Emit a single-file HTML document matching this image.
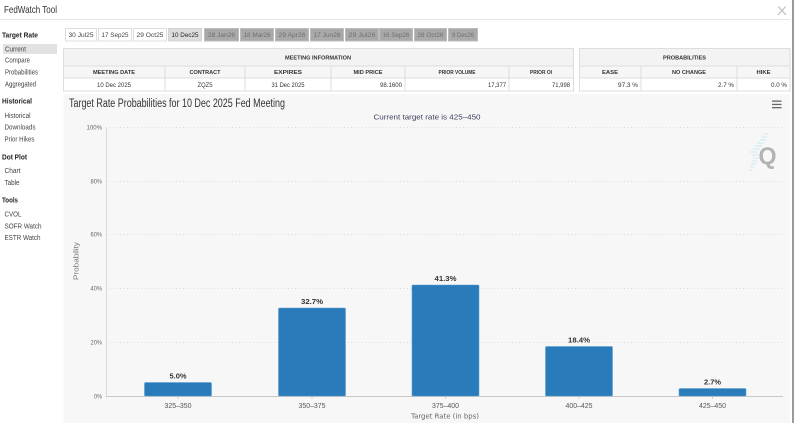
<!DOCTYPE html>
<html>
<head>
<meta charset="utf-8">
<style>
html,body{margin:0;padding:0;background:#fff;}
svg{display:block;}
text{font-family:"Liberation Sans",Arial,sans-serif;}
</style>
</head>
<body>
<svg width="800" height="423" viewBox="0 0 800 423" xmlns="http://www.w3.org/2000/svg">
<rect x="0" y="0" width="800" height="423" fill="#fff"/>
<!-- header -->
<text x="4" y="13" font-size="10.5" fill="#333" textLength="53" lengthAdjust="spacingAndGlyphs">FedWatch Tool</text>
<text x="777" y="15" font-size="12" fill="#bbb" textLength="10" lengthAdjust="spacingAndGlyphs">X</text>
<line x1="0" y1="19.5" x2="790" y2="19.5" stroke="#e6e6e6" stroke-width="1"/>
<line x1="793" y1="0" x2="793" y2="423" stroke="#9a9a9a" stroke-width="2"/>

<!-- sidebar -->
<g font-size="7" fill="#444">
<text x="2" y="37.5" font-weight="bold" fill="#222" textLength="36" lengthAdjust="spacingAndGlyphs">Target Rate</text>
<rect x="3" y="44" width="54" height="10" fill="#e2e2e2"/>
<text x="5" y="51.5" textLength="21" lengthAdjust="spacingAndGlyphs">Current</text>
<text x="5" y="62.5" textLength="25" lengthAdjust="spacingAndGlyphs">Compare</text>
<text x="5" y="74.5" textLength="33" lengthAdjust="spacingAndGlyphs">Probabilities</text>
<text x="5" y="86.5" textLength="31" lengthAdjust="spacingAndGlyphs">Aggregated</text>
<text x="2" y="103.5" font-weight="bold" fill="#222" textLength="30" lengthAdjust="spacingAndGlyphs">Historical</text>
<text x="4.5" y="118" textLength="26" lengthAdjust="spacingAndGlyphs">Historical</text>
<text x="4.5" y="129.5" textLength="31" lengthAdjust="spacingAndGlyphs">Downloads</text>
<text x="4.5" y="141.5" textLength="30" lengthAdjust="spacingAndGlyphs">Prior Hikes</text>
<text x="2" y="159.5" font-weight="bold" fill="#222" textLength="25" lengthAdjust="spacingAndGlyphs">Dot Plot</text>
<text x="4.5" y="173" textLength="16" lengthAdjust="spacingAndGlyphs">Chart</text>
<text x="4.5" y="185" textLength="15" lengthAdjust="spacingAndGlyphs">Table</text>
<text x="2" y="202.5" font-weight="bold" fill="#222" textLength="16" lengthAdjust="spacingAndGlyphs">Tools</text>
<text x="4.5" y="216.5" textLength="17" lengthAdjust="spacingAndGlyphs">CVOL</text>
<text x="4.5" y="228.5" textLength="37" lengthAdjust="spacingAndGlyphs">SOFR Watch</text>
<text x="4.5" y="240" textLength="36" lengthAdjust="spacingAndGlyphs">ESTR Watch</text>
</g>

<!-- tabs -->
<g font-size="6.5">
<rect x="65.5" y="28.5" width="31" height="12.5" fill="#fff" stroke="#ddd"/>
<text x="81" y="37" text-anchor="middle" fill="#444" textLength="25" lengthAdjust="spacingAndGlyphs">30 Jul25</text>
<rect x="98.5" y="28.5" width="33" height="12.5" fill="#fff" stroke="#ddd"/>
<text x="115" y="37" text-anchor="middle" fill="#444" textLength="27" lengthAdjust="spacingAndGlyphs">17 Sep25</text>
<rect x="133.5" y="28.5" width="33" height="12.5" fill="#fff" stroke="#ddd"/>
<text x="150" y="37" text-anchor="middle" fill="#444" textLength="27" lengthAdjust="spacingAndGlyphs">29 Oct25</text>
<rect x="168.5" y="28.5" width="33" height="12.5" fill="#dcdcdc" stroke="#d4d4d4"/>
<text x="185" y="37" text-anchor="middle" fill="#222" textLength="27" lengthAdjust="spacingAndGlyphs">10 Dec25</text>
<g fill="#a9a9a9" stroke="#bdbdbd">
<rect x="204.5" y="28.5" width="34" height="12.5"/>
<rect x="240.5" y="28.5" width="33" height="12.5"/>
<rect x="275.5" y="28.5" width="33" height="12.5"/>
<rect x="310.5" y="28.5" width="33" height="12.5"/>
<rect x="345.5" y="28.5" width="33" height="12.5"/>
<rect x="379.5" y="28.5" width="33" height="12.5"/>
<rect x="414.5" y="28.5" width="32" height="12.5"/>
<rect x="448.5" y="28.5" width="29" height="12.5"/>
</g>
<g fill="#6e6e6e" text-anchor="middle">
<text x="221.5" y="37" textLength="27" lengthAdjust="spacingAndGlyphs">28 Jan26</text>
<text x="257" y="37" textLength="27" lengthAdjust="spacingAndGlyphs">18 Mar26</text>
<text x="292" y="37" textLength="27" lengthAdjust="spacingAndGlyphs">29 Apr26</text>
<text x="327" y="37" textLength="27" lengthAdjust="spacingAndGlyphs">17 Jun26</text>
<text x="362" y="37" textLength="27" lengthAdjust="spacingAndGlyphs">29 Jul26</text>
<text x="396" y="37" textLength="27" lengthAdjust="spacingAndGlyphs">16 Sep26</text>
<text x="430.5" y="37" textLength="26" lengthAdjust="spacingAndGlyphs">28 Oct26</text>
<text x="463" y="37" textLength="22" lengthAdjust="spacingAndGlyphs">9 Dec26</text>
</g>
</g>

<!-- meeting info table -->
<g>
<rect x="63.5" y="48.5" width="510" height="17.5" fill="#f3f3f3" stroke="#ddd"/>
<rect x="63.5" y="66" width="510" height="12" fill="#f6f6f6" stroke="#ddd"/>
<rect x="63.5" y="78" width="510" height="13" fill="#fff" stroke="#ddd"/>
<g stroke="#ddd">
<line x1="165" y1="66" x2="165" y2="91"/>
<line x1="245" y1="66" x2="245" y2="91"/>
<line x1="331" y1="66" x2="331" y2="91"/>
<line x1="405" y1="66" x2="405" y2="91"/>
<line x1="509" y1="66" x2="509" y2="91"/>
</g>
<g font-size="5.2" font-weight="bold" fill="#333" text-anchor="middle">
<text x="318" y="59.5" textLength="66" lengthAdjust="spacingAndGlyphs">MEETING INFORMATION</text>
<text x="114" y="74" textLength="42" lengthAdjust="spacingAndGlyphs">MEETING DATE</text>
<text x="205" y="74" textLength="31" lengthAdjust="spacingAndGlyphs">CONTRACT</text>
<text x="288" y="74" textLength="28" lengthAdjust="spacingAndGlyphs">EXPIRES</text>
<text x="368" y="74" textLength="29" lengthAdjust="spacingAndGlyphs">MID PRICE</text>
<text x="457" y="74" textLength="37" lengthAdjust="spacingAndGlyphs">PRIOR VOLUME</text>
<text x="541" y="74" textLength="22" lengthAdjust="spacingAndGlyphs">PRIOR OI</text>
</g>
<g font-size="6.3" fill="#333">
<text x="114" y="87" text-anchor="middle" textLength="34" lengthAdjust="spacingAndGlyphs">10 Dec 2025</text>
<text x="205" y="87" text-anchor="middle" textLength="15" lengthAdjust="spacingAndGlyphs">ZQZ5</text>
<text x="288" y="87" text-anchor="middle" textLength="33" lengthAdjust="spacingAndGlyphs">31 Dec 2025</text>
<text x="402" y="87" text-anchor="end" textLength="22" lengthAdjust="spacingAndGlyphs">98.1600</text>
<text x="506" y="87" text-anchor="end" textLength="18" lengthAdjust="spacingAndGlyphs">17,377</text>
<text x="570" y="87" text-anchor="end" textLength="18" lengthAdjust="spacingAndGlyphs">71,998</text>
</g>
</g>

<!-- probabilities table -->
<g>
<rect x="579.5" y="48.5" width="210.5" height="17.5" fill="#f3f3f3" stroke="#ddd"/>
<rect x="579.5" y="66" width="210.5" height="12" fill="#f6f6f6" stroke="#ddd"/>
<rect x="579.5" y="78" width="210.5" height="13" fill="#fff" stroke="#ddd"/>
<g stroke="#ddd">
<line x1="641" y1="66" x2="641" y2="91"/>
<line x1="737" y1="66" x2="737" y2="91"/>
</g>
<g font-size="5.2" font-weight="bold" fill="#333" text-anchor="middle">
<text x="684.5" y="59.5" textLength="43" lengthAdjust="spacingAndGlyphs">PROBABILITIES</text>
<text x="610" y="74" textLength="16" lengthAdjust="spacingAndGlyphs">EASE</text>
<text x="689" y="74" textLength="34" lengthAdjust="spacingAndGlyphs">NO CHANGE</text>
<text x="763.5" y="74" textLength="14" lengthAdjust="spacingAndGlyphs">HIKE</text>
</g>
<g font-size="6.3" fill="#333" text-anchor="end">
<text x="638" y="87" textLength="20" lengthAdjust="spacingAndGlyphs">97.3 %</text>
<text x="734" y="87" textLength="16" lengthAdjust="spacingAndGlyphs">2.7 %</text>
<text x="787" y="87" textLength="16" lengthAdjust="spacingAndGlyphs">0.0 %</text>
</g>
</g>

<!-- chart panel -->
<rect x="63.5" y="94" width="726.5" height="329" fill="#f7f7f7"/>
<text x="69" y="107" font-size="11.5" fill="#333" textLength="216" lengthAdjust="spacingAndGlyphs">Target Rate Probabilities for 10 Dec 2025 Fed Meeting</text>
<g fill="#666">
<rect x="772" y="100.5" width="9.5" height="1.3"/>
<rect x="772" y="103.8" width="9.5" height="1.3"/>
<rect x="772" y="107" width="9.5" height="1.3"/>
</g>
<text x="427" y="119.5" font-size="7.4" fill="#3c3f5e" text-anchor="middle" textLength="107" lengthAdjust="spacingAndGlyphs">Current target rate is 425–450</text>

<!-- Q logo -->
<g stroke="#bfe2f4" stroke-width="0.8">
<line x1="764" y1="134" x2="768" y2="134"/>
<line x1="762" y1="137" x2="767" y2="137"/>
<line x1="760" y1="140" x2="766" y2="140"/>
<line x1="757" y1="143" x2="764" y2="143"/>
<line x1="755" y1="146" x2="762" y2="146"/>
<line x1="752" y1="149" x2="760" y2="149"/>
<line x1="750" y1="152" x2="758" y2="152"/>
<line x1="752" y1="155" x2="759" y2="155"/>
<line x1="753" y1="158" x2="759" y2="158"/>
<line x1="752" y1="161" x2="757" y2="161"/>
<line x1="751" y1="164" x2="756" y2="164"/>
<line x1="750" y1="167" x2="754" y2="167"/>
<line x1="749" y1="170" x2="752" y2="170"/>
</g>
<text x="767.5" y="164" font-size="24" font-weight="bold" fill="#b3b3b3" text-anchor="middle" textLength="18" lengthAdjust="spacingAndGlyphs">Q</text>

<!-- grid -->
<g stroke="#d2d2d2" stroke-width="0.8" stroke-dasharray="1,2.5">
<line x1="106" y1="127.5" x2="783" y2="127.5"/>
<line x1="106" y1="181.5" x2="783" y2="181.5"/>
<line x1="106" y1="234.5" x2="783" y2="234.5"/>
<line x1="106" y1="288.5" x2="783" y2="288.5"/>
<line x1="106" y1="342.5" x2="783" y2="342.5"/>
</g>
<line x1="106.5" y1="127" x2="106.5" y2="396" stroke="#d9d9d9" stroke-width="1"/>
<line x1="106" y1="396.5" x2="783" y2="396.5" stroke="#c8c8c8" stroke-width="1"/>
<g stroke="#c8c8c8" stroke-width="0.8">
<line x1="178" y1="396" x2="178" y2="399"/>
<line x1="312" y1="396" x2="312" y2="399"/>
<line x1="445.5" y1="396" x2="445.5" y2="399"/>
<line x1="579" y1="396" x2="579" y2="399"/>
<line x1="712.5" y1="396" x2="712.5" y2="399"/>
</g>

<!-- y labels -->
<g font-size="6.6" fill="#666" text-anchor="end">
<text x="102" y="129.5" textLength="15.5" lengthAdjust="spacingAndGlyphs">100%</text>
<text x="102" y="183.5" textLength="11.5" lengthAdjust="spacingAndGlyphs">80%</text>
<text x="102" y="236.5" textLength="11.5" lengthAdjust="spacingAndGlyphs">60%</text>
<text x="102" y="290.5" textLength="11.5" lengthAdjust="spacingAndGlyphs">40%</text>
<text x="102" y="344.5" textLength="11.5" lengthAdjust="spacingAndGlyphs">20%</text>
<text x="102" y="398.5" textLength="8" lengthAdjust="spacingAndGlyphs">0%</text>
</g>
<text transform="translate(78.5,261) rotate(-90)" font-size="7" fill="#777" text-anchor="middle" textLength="38" lengthAdjust="spacingAndGlyphs">Probability</text>

<!-- bars -->
<g fill="#2a7bb9" stroke="#5d9fd0" stroke-width="0.6">
<rect x="144.5" y="382.5" width="67" height="13.5" rx="1"/>
<rect x="278.5" y="308" width="67" height="88" rx="1"/>
<rect x="412" y="285" width="67" height="111" rx="1"/>
<rect x="545.5" y="346.5" width="67" height="49.5" rx="1"/>
<rect x="679" y="388.5" width="67" height="7.5" rx="1"/>
</g>

<!-- data labels -->
<g font-family="'DejaVu Sans',sans-serif" font-size="7" font-weight="bold" fill="#333" text-anchor="middle" style="font-family:'DejaVu Sans',sans-serif">
<text x="178" y="378.5" textLength="17" lengthAdjust="spacingAndGlyphs">5.0%</text>
<text x="312" y="304" textLength="22" lengthAdjust="spacingAndGlyphs">32.7%</text>
<text x="445.5" y="281" textLength="22" lengthAdjust="spacingAndGlyphs">41.3%</text>
<text x="579" y="342.5" textLength="22" lengthAdjust="spacingAndGlyphs">18.4%</text>
<text x="712.5" y="384.5" textLength="17" lengthAdjust="spacingAndGlyphs">2.7%</text>
</g>

<!-- x labels -->
<g font-size="7" fill="#555" text-anchor="middle" style="font-family:'DejaVu Sans',sans-serif">
<text x="178" y="408" textLength="27" lengthAdjust="spacingAndGlyphs">325–350</text>
<text x="312" y="408" textLength="27" lengthAdjust="spacingAndGlyphs">350–375</text>
<text x="445.5" y="408" textLength="27" lengthAdjust="spacingAndGlyphs">375–400</text>
<text x="579" y="408" textLength="27" lengthAdjust="spacingAndGlyphs">400–425</text>
<text x="712.5" y="408" textLength="27" lengthAdjust="spacingAndGlyphs">425–450</text>
</g>
<text x="445" y="418.5" font-size="7.4" fill="#666" text-anchor="middle" textLength="68" lengthAdjust="spacingAndGlyphs" style="font-family:'DejaVu Sans',sans-serif">Target Rate (in bps)</text>
</svg>
</body>
</html>
